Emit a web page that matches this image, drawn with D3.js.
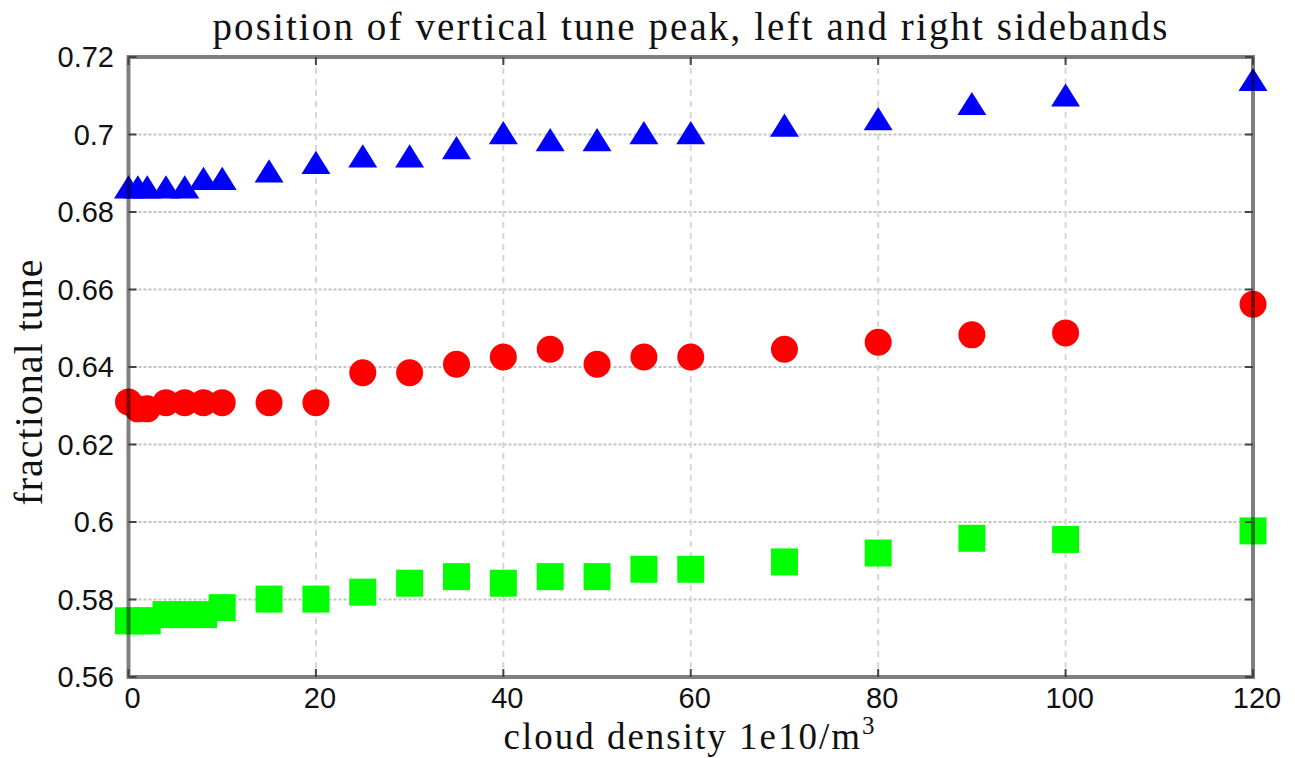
<!DOCTYPE html>
<html>
<head>
<meta charset="utf-8">
<script src="https://cdn.jsdelivr.net/npm/d3@7"></script>
<style>
  html, body { margin: 0; padding: 0; background: #fff; }
  svg { display: block; }
</style>
</head>
<body>
<svg id="chart" width="1295" height="758"></svg>
<script>
// Cloud density (1e10/m^3) at which the tune spectrum was measured
const density = [0, 1, 2, 4, 6, 8, 10, 15, 20, 25, 30, 35, 40, 45, 50, 55, 60, 70, 80, 90, 100, 120];

// Right sideband (blue triangles)
const rightSideband = [0.6855, 0.6855, 0.6855, 0.6855, 0.6855, 0.6877, 0.6877, 0.6896, 0.6918, 0.6935, 0.6935,
  0.6956, 0.6995, 0.6977, 0.6977, 0.6995, 0.6995, 0.7014, 0.7031, 0.7070, 0.7092, 0.7132];

// Vertical tune peak (red circles)
const tunePeak = [0.6310, 0.6292, 0.6292, 0.6308, 0.6308, 0.6308, 0.6308, 0.6308, 0.6308, 0.6385, 0.6385,
  0.6407, 0.6426, 0.6446, 0.6407, 0.6426, 0.6426, 0.6446, 0.6464, 0.6483, 0.6488, 0.6562];

// Left sideband (green squares)
const leftSideband = [0.5745, 0.5745, 0.5745, 0.5761, 0.5761, 0.5761, 0.5779, 0.5801, 0.5801, 0.5819, 0.5842,
  0.5859, 0.5842, 0.5859, 0.5859, 0.5878, 0.5878, 0.5897, 0.5920, 0.5958, 0.5955, 0.5977];

const xTicks = [0, 20, 40, 60, 80, 100, 120];
const yTicks = [0.56, 0.58, 0.60, 0.62, 0.64, 0.66, 0.68, 0.70, 0.72];
const yTickLabels = ["0.56", "0.58", "0.6", "0.62", "0.64", "0.66", "0.68", "0.7", "0.72"];

const titleText = "position of vertical tune peak, left and right sidebands";
const xLabelText = "cloud density  1e10/m";
const yLabelText = "fractional tune";

const svg = d3.select("#chart");
const plotLeft = 128.5, plotRight = 1253, plotTop = 57, plotBottom = 677;

const x = d3.scaleLinear().domain([0, 120]).range([plotLeft, plotRight]);
const y = d3.scaleLinear().domain([0.56, 0.72]).range([plotBottom, plotTop]);

// Grid
const grid = svg.append("g");
grid.selectAll("line.hg").data(yTicks.slice(1, -1)).join("line")
  .attr("x1", plotLeft).attr("x2", plotRight)
  .attr("y1", d => y(d)).attr("y2", d => y(d))
  .attr("stroke", "#c4c4c4").attr("stroke-width", 2).attr("stroke-dasharray", "3,2");
grid.selectAll("line.vg").data(xTicks.slice(1, -1)).join("line")
  .attr("x1", d => x(d)).attr("x2", d => x(d))
  .attr("y1", plotTop).attr("y2", plotBottom)
  .attr("stroke", "#d6d6d6").attr("stroke-width", 2).attr("stroke-dasharray", "6,5");

// Marker shapes
const triangleUp = {
  draw(ctx, size) {
    const w = Math.sqrt(size);
    const h = w * 0.8;
    ctx.moveTo(0, -h * 2 / 3);
    ctx.lineTo(w / 2, h / 3);
    ctx.lineTo(-w / 2, h / 3);
    ctx.closePath();
  }
};

const series = [
  { values: leftSideband, color: "#00ff00", shape: d3.symbolSquare, size: 27 * 27 },
  { values: tunePeak, color: "#ff0000", shape: d3.symbolCircle, size: Math.PI * 13.5 * 13.5 },
  { values: rightSideband, color: "#0000ff", shape: triangleUp, size: 29 * 29 }
];

const marks = svg.append("g");
series.forEach(s => {
  const sym = d3.symbol().type(s.shape).size(s.size);
  marks.append("g").selectAll("path")
    .data(density.map((d, i) => [d, s.values[i]]))
    .join("path")
    .attr("transform", d => `translate(${x(d[0])},${y(d[1])})`)
    .attr("d", sym)
    .attr("fill", s.color);
});

// Axes box with inward ticks
const frame = svg.append("g").attr("stroke", "#000").attr("stroke-opacity", 0.5);
frame.append("rect")
  .attr("x", plotLeft).attr("y", plotTop)
  .attr("width", plotRight - plotLeft).attr("height", plotBottom - plotTop)
  .attr("fill", "none").attr("stroke-width", 4);

const tickLen = 8;
const tk = svg.append("g").attr("stroke", "#444").attr("stroke-width", 2);
yTicks.forEach(v => {
  tk.append("line").attr("x1", plotLeft).attr("x2", plotLeft + tickLen).attr("y1", y(v)).attr("y2", y(v));
  tk.append("line").attr("x1", plotRight - tickLen).attr("x2", plotRight).attr("y1", y(v)).attr("y2", y(v));
});
xTicks.forEach(v => {
  tk.append("line").attr("x1", x(v)).attr("x2", x(v)).attr("y1", plotBottom).attr("y2", plotBottom - tickLen);
  tk.append("line").attr("x1", x(v)).attr("x2", x(v)).attr("y1", plotTop).attr("y2", plotTop + tickLen);
});

// Tick labels
const tickFont = "'Liberation Sans', Arial, sans-serif";
svg.append("g").selectAll("text").data(yTicks).join("text")
  .attr("x", 114).attr("y", d => y(d))
  .attr("text-anchor", "end").attr("dominant-baseline", "central")
  .attr("font-family", tickFont).attr("font-size", 29).attr("fill", "#111")
  .text((d, i) => yTickLabels[i]);

svg.append("g").selectAll("text").data(xTicks).join("text")
  .attr("x", d => x(d) + 4).attr("y", 708)
  .attr("text-anchor", "middle")
  .attr("font-family", tickFont).attr("font-size", 29).attr("fill", "#111")
  .text(d => String(d));

// Title and axis labels
const serif = "'Liberation Serif', 'Times New Roman', serif";
svg.append("text")
  .attr("x", 690).attr("y", 40).attr("text-anchor", "middle")
  .attr("font-family", serif).attr("font-size", 39).attr("fill", "#111")
  .attr("textLength", 955).attr("lengthAdjust", "spacing")
  .text(titleText);

const xl = svg.append("text")
  .attr("x", 690).attr("y", 749).attr("text-anchor", "middle")
  .attr("font-family", serif).attr("font-size", 37).attr("fill", "#111")
  .attr("letter-spacing", 2);
xl.append("tspan").text(xLabelText);
xl.append("tspan").attr("dy", -15).attr("font-size", 25).text("3");

svg.append("text")
  .attr("transform", "translate(42,382) rotate(-90)")
  .attr("text-anchor", "middle")
  .attr("font-family", serif).attr("font-size", 40).attr("fill", "#111")
  .attr("letter-spacing", 1)
  .text(yLabelText);
</script>
</body>
</html>
